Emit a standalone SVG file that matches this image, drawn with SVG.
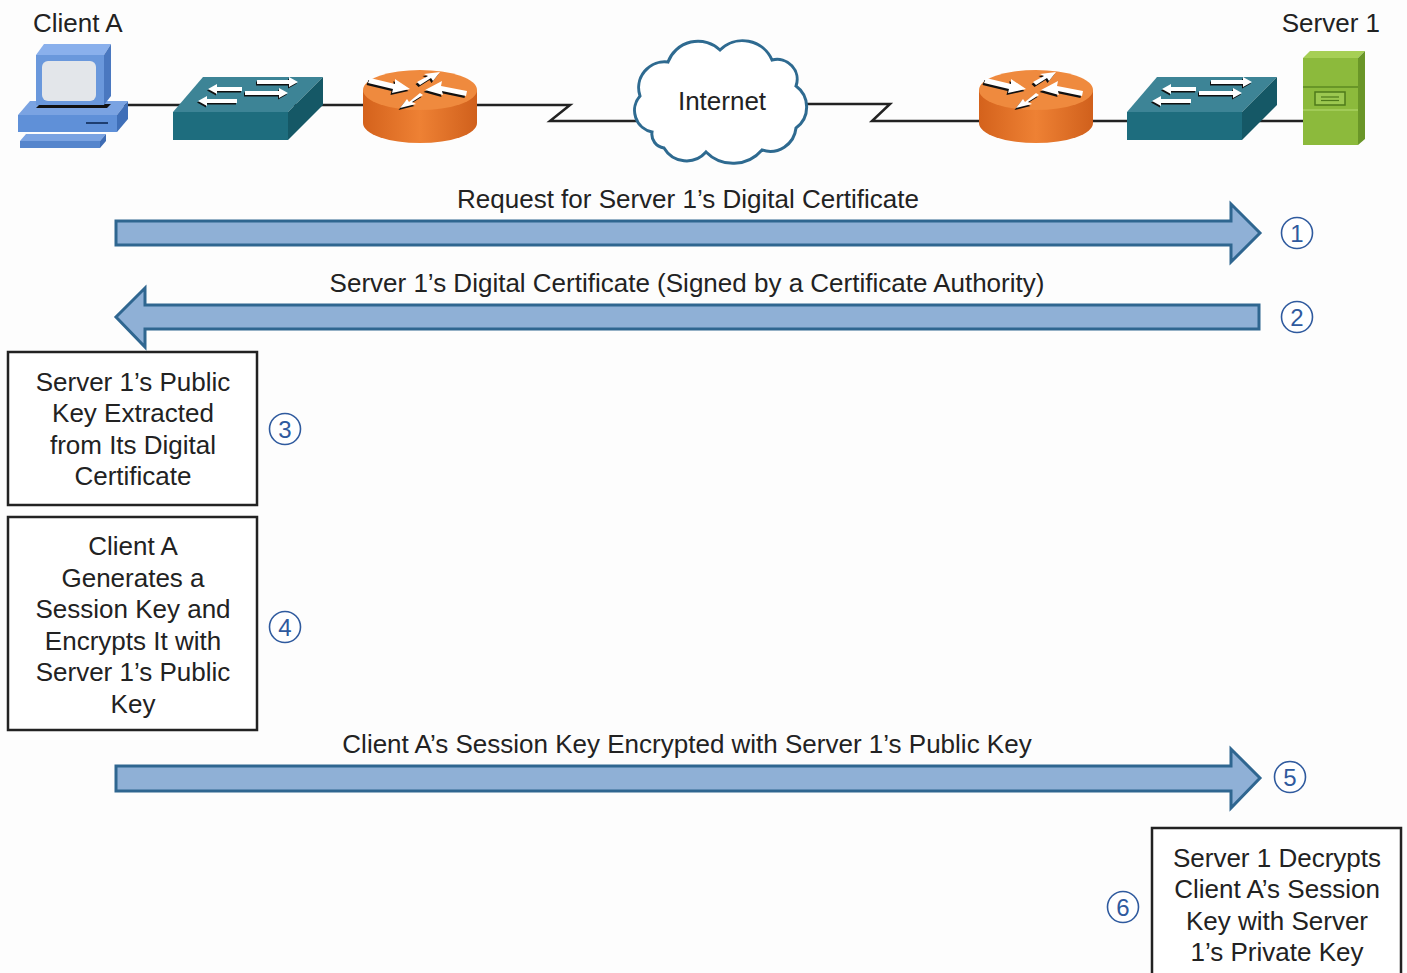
<svg xmlns="http://www.w3.org/2000/svg" width="1407" height="973" viewBox="0 0 1407 973">
  <style>
    .lbl { font-family: "Liberation Sans", Arial, sans-serif; font-size: 26px; fill: #222; }
    .mid { text-anchor: middle; }
    .box { fill: #fff; stroke: #222; stroke-width: 2.5; }
    .flow { fill: #8fb0d6; stroke: #2f6690; stroke-width: 3; stroke-linejoin: miter; }
    .step circle { fill: #fff; stroke: #2f5a9e; stroke-width: 1.6; }
    .step text { font-family: "Liberation Sans", Arial, sans-serif; font-size: 24px; fill: #2f5a9e; text-anchor: middle; }
    .link { fill: none; stroke: #222; stroke-width: 2.5; }
    .wht { fill: #fff; }
    .shd { fill: #111; }
  </style>
  <defs>
    <linearGradient id="routerBody" x1="0" y1="0" x2="1" y2="0">
      <stop offset="0" stop-color="#d4621c"/>
      <stop offset="0.5" stop-color="#ee8134"/>
      <stop offset="1" stop-color="#d0601c"/>
    </linearGradient>
    <!-- router: origin at centre of top ellipse -->
    <g id="router-arrows">
      <path d="M-50,-12 L-25,-6 L-25,-11 L-10,-1 L-28,3 L-27,-1 L-52,-7 Z"/>
      <path d="M-3,-8 L8,-14 L4,-16 L20,-18 L13,-9 L11,-12 L0,-5 Z"/>
      <path d="M47,1 L21,-4 L22,-9 L5,0 L23,5 L22,1 L46,6 Z"/>
      <path d="M3,5 L-8,12 L-4,14 L-20,18 L-13,9 L-11,12 L0,3 Z"/>
    </g>
    <g id="router">
      <path d="M-57,0 L-57,33 A57,20 0 0,0 57,33 L57,0 Z" fill="url(#routerBody)"/>
      <ellipse cx="0" cy="0" rx="57" ry="20" fill="#ef8a3e"/>
      <use href="#router-arrows" class="shd" transform="translate(-1.5,2)"/>
      <use href="#router-arrows" class="wht"/>
    </g>
    <!-- switch: origin at front-top-left corner -->
    <g id="switch-arrows">
      <polygon points="35,-23 44,-28 44,-25 69,-25 69,-21 44,-21 44,-18"/>
      <polygon points="125,-30 116,-35 116,-32 84,-32 84,-28 116,-28 116,-25"/>
      <polygon points="25,-11 34,-16 34,-13 64,-13 64,-9 34,-9 34,-6"/>
      <polygon points="115,-19 106,-24 106,-21 72,-21 72,-17 106,-17 106,-14"/>
    </g>
    <g id="switch">
      <polygon points="0,0 115,0 150,-35 30,-35" fill="#3d8496"/>
      <polygon points="0,0 115,0 115,28 0,28" fill="#1e6d7e"/>
      <polygon points="115,0 150,-35 150,-7 115,28" fill="#155866"/>
      <use href="#switch-arrows" class="shd" transform="translate(-1,1.5)"/>
      <use href="#switch-arrows" class="wht"/>
    </g>
  </defs>

  <rect width="1407" height="973" fill="#fdfdfd"/>

  <!-- network links -->
  <g id="connectors">
    <polyline class="link" points="110,105 570,105 550,121 640,121"/>
    <polyline class="link" points="800,104 890,104 872,121 1330,121"/>
  </g>

  <!-- client PC -->
  <g id="client-a">
    <text class="lbl" x="33" y="32">Client A</text>
    <polygon points="26,134 106,134 100,141 20,141" fill="#7aa3e2"/>
    <polygon points="20,141 100,141 100,148 20,148" fill="#5585cc"/>
    <polygon points="106,134 100,141 100,148 106,141" fill="#3e6cb4"/>
    <polygon points="30,101 128,101 117,115 18,115" fill="#7aa3e2"/>
    <polygon points="18,115 117,115 117,132 18,132" fill="#5f90d8"/>
    <polygon points="117,115 128,101 128,119 117,132" fill="#3f6fb8"/>
    <polygon points="36,108 107,108 111,104 40,104" fill="#111"/>
    <line x1="86" y1="123" x2="108" y2="123" stroke="#1e3e70" stroke-width="2"/>
    <polygon points="44,44 111,44 104,55 36,55" fill="#8ab0ec"/>
    <rect x="36" y="55" width="68" height="50" fill="#6a98dc"/>
    <polygon points="104,55 111,44 111,96 104,105" fill="#4a78c0"/>
    <rect x="42" y="61" width="54" height="40" rx="6" fill="#e3e6ea"/>
  </g>

  <g id="switch-a">
    <use href="#switch" x="173" y="112"/>
  </g>
  <g id="router-a">
    <use href="#router" x="420" y="90"/>
  </g>

  <!-- internet cloud -->
  <g id="internet">
    <path d="M652,132 A22,22 0 0,1 640,96 A26,26 0 0,1 668,62 A32,32 0 0,1 720,50 A32,32 0 0,1 772,60 A20,20 0 0,1 796,86 A26,26 0 0,1 796,128 A26,26 0 0,1 762,150 A38,38 0 0,1 706,152 A26,26 0 0,1 664,148 A14,14 0 0,1 652,132 Z" fill="#fff" stroke="#2e6a90" stroke-width="3"/>
    <text class="lbl mid" x="722" y="110">Internet</text>
  </g>

  <g id="router-b">
    <use href="#router" x="1036" y="90"/>
  </g>
  <g id="switch-b">
    <use href="#switch" x="1127" y="112"/>
  </g>

  <!-- server -->
  <g id="server-1">
    <text class="lbl" x="1380" y="32" text-anchor="end">Server 1</text>
    <polygon points="1303,58 1358,58 1365,51 1310,51" fill="#a6cf55"/>
    <rect x="1303" y="58" width="55" height="87" fill="#8cba3c"/>
    <polygon points="1358,58 1365,51 1365,139 1358,145" fill="#6a9628"/>
    <line x1="1303" y1="87" x2="1358" y2="87" stroke="#5d8a20" stroke-width="1.5"/>
    <line x1="1303" y1="110" x2="1358" y2="110" stroke="#a8d060" stroke-width="1.5"/>
    <rect x="1315" y="92" width="30" height="13" fill="#9cc850" stroke="#4e7a1a" stroke-width="1.5"/>
    <line x1="1321" y1="97" x2="1339" y2="97" stroke="#4e7a1a" stroke-width="1.2"/>
    <line x1="1321" y1="100.5" x2="1339" y2="100.5" stroke="#4e7a1a" stroke-width="1.2"/>
  </g>

  <!-- message flows -->
  <g id="flow-1">
    <polygon class="flow" points="116,221 1231,221 1231,204 1260,233 1231,262 1231,245 116,245"/>
    <text class="lbl mid" x="688" y="208">Request for Server 1’s Digital Certificate</text>
  </g>
  <g id="flow-2">
    <polygon class="flow" points="1259,305 145,305 145,288 116,317 145,347 145,329 1259,329"/>
    <text class="lbl mid" x="687" y="292">Server 1’s Digital Certificate (Signed by a Certificate Authority)</text>
  </g>
  <g id="flow-5">
    <polygon class="flow" points="116,766 1231,766 1231,749 1260,778 1231,808 1231,791 116,791"/>
    <text class="lbl mid" x="687" y="753">Client A’s Session Key Encrypted with Server 1’s Public Key</text>
  </g>

  <!-- processing steps -->
  <g id="step-3">
    <rect class="box" x="8" y="352" width="249" height="153"/>
    <text class="lbl mid" x="133" y="391">Server 1’s Public</text>
    <text class="lbl mid" x="133" y="422">Key Extracted</text>
    <text class="lbl mid" x="133" y="454">from Its Digital</text>
    <text class="lbl mid" x="133" y="485">Certificate</text>
  </g>
  <g id="step-4">
    <rect class="box" x="8" y="517" width="249" height="213"/>
    <text class="lbl mid" x="133" y="555">Client A</text>
    <text class="lbl mid" x="133" y="587">Generates a</text>
    <text class="lbl mid" x="133" y="618">Session Key and</text>
    <text class="lbl mid" x="133" y="650">Encrypts It with</text>
    <text class="lbl mid" x="133" y="681">Server 1’s Public</text>
    <text class="lbl mid" x="133" y="713">Key</text>
  </g>
  <g id="step-6">
    <rect class="box" x="1152" y="828" width="249" height="160"/>
    <text class="lbl mid" x="1277" y="867">Server 1 Decrypts</text>
    <text class="lbl mid" x="1277" y="898">Client A’s Session</text>
    <text class="lbl mid" x="1277" y="930">Key with Server</text>
    <text class="lbl mid" x="1277" y="961">1’s Private Key</text>
  </g>

  <!-- step numbers -->
  <g class="step" id="num-1"><circle cx="1297" cy="233" r="15.5"/><text x="1297" y="241.5">1</text></g>
  <g class="step" id="num-2"><circle cx="1297" cy="317" r="15.5"/><text x="1297" y="325.5">2</text></g>
  <g class="step" id="num-3"><circle cx="285" cy="429" r="15.5"/><text x="285" y="437.5">3</text></g>
  <g class="step" id="num-4"><circle cx="285" cy="627" r="15.5"/><text x="285" y="635.5">4</text></g>
  <g class="step" id="num-5"><circle cx="1290" cy="777" r="15.5"/><text x="1290" y="785.5">5</text></g>
  <g class="step" id="num-6"><circle cx="1123" cy="907" r="15.5"/><text x="1123" y="915.5">6</text></g>
</svg>
